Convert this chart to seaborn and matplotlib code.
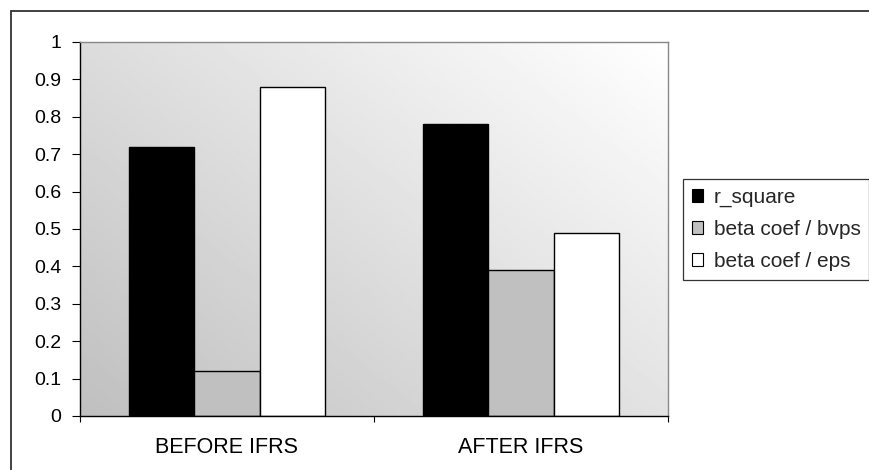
import numpy as np
import pandas as pd
import matplotlib
matplotlib.use("Agg")
import matplotlib.pyplot as plt
from matplotlib.lines import Line2D
from matplotlib.patches import Patch
import seaborn as sns

periods = ["BEFORE IFRS", "AFTER IFRS"]
series = ["r_square", "beta coef / bvps", "beta coef / eps"]
r_square = [0.72, 0.78]
beta_bvps = [0.12, 0.39]
beta_eps = [0.88, 0.49]
colors = ["#000000", "#c0c0c0", "#ffffff"]
y_ticks = [0, 0.1, 0.2, 0.3, 0.4, 0.5, 0.6, 0.7, 0.8, 0.9, 1]
y_tick_labels = ["0", "0.1", "0.2", "0.3", "0.4", "0.5", "0.6", "0.7", "0.8", "0.9", "1"]

df = pd.DataFrame({
    "period": periods * 3,
    "series": [s for s in series for _ in periods],
    "value": r_square + beta_bvps + beta_eps,
})

sns.set_theme(style="white")
plt.rcParams["font.family"] = ["Liberation Sans", "DejaVu Sans"]

W, H = 870, 470
fig = plt.figure(figsize=(W / 100, H / 100), dpi=100)
ax = fig.add_axes([80 / W, 1 - 416 / H, (668 - 80) / W, (416 - 42) / H])

# diagonal gradient fill for the plot area: grey bottom-left to white top-right
n = 256
gx, gy = np.meshgrid(np.linspace(0, 1, n), np.linspace(0, 1, n))
t = (gx * 0.55 + gy * 0.45)
grad = 0.75 + 0.25 * t
ax.imshow(grad, cmap="gray", vmin=0, vmax=1, extent=[0, 1, 0, 1],
          transform=ax.transAxes, origin="lower", aspect="auto",
          zorder=0, interpolation="bilinear")

sns.barplot(data=df, x="period", y="value", hue="series", order=periods,
            hue_order=series, palette=colors, width=3 / 4.5, ax=ax,
            edgecolor="black", linewidth=1.0, saturation=1, errorbar=None,
            legend=False, zorder=2)

ax.set_xlim(-0.5, 1.5)
ax.set_ylim(0, 1)
ax.set_xlabel("")
ax.set_ylabel("")
ax.set_yticks(y_ticks)
ax.set_yticklabels(y_tick_labels, fontsize=14, color="black")
ax.set_xticks([0, 1])
ax.set_xticklabels(periods, fontsize=15.5, color="black")
ax.set_xticks([-0.5, 0.5, 1.5], minor=True)
ax.tick_params(axis="x", which="major", length=0, pad=15)
ax.tick_params(axis="x", which="minor", length=4.5, width=0.8, color="black",
               direction="out", bottom=True)
ax.tick_params(axis="y", which="major", length=5.5, width=0.8, color="black",
               direction="out", left=True, pad=8)

for side in ("left", "bottom"):
    ax.spines[side].set_color("black")
    ax.spines[side].set_linewidth(1.0)
for side in ("top", "right"):
    ax.spines[side].set_color("#888888")
    ax.spines[side].set_linewidth(1.0)
    ax.spines[side].set_visible(True)

handles = [Patch(facecolor=c, edgecolor="black", linewidth=0.8) for c in colors]
leg = fig.legend(handles, series, loc="upper left",
                 bbox_to_anchor=(683 / W, 1 - 179 / H),
                 fontsize=15, frameon=True, fancybox=False,
                 handlelength=0.55, handleheight=0.55, handletextpad=0.5,
                 labelspacing=0.62, borderpad=0.42, borderaxespad=0)
leg.get_frame().set_edgecolor("black")
leg.get_frame().set_linewidth(0.9)

# chart-area border along the top and left edges
fig.add_artist(Line2D([11 / W, 11 / W], [0, 1 - 11 / H], color="#333333",
                      linewidth=1.3, transform=fig.transFigure))
fig.add_artist(Line2D([11 / W, 1], [1 - 11 / H, 1 - 11 / H], color="#333333",
                      linewidth=1.3, transform=fig.transFigure))

fig.savefig("out.png", dpi=100, facecolor="white")
